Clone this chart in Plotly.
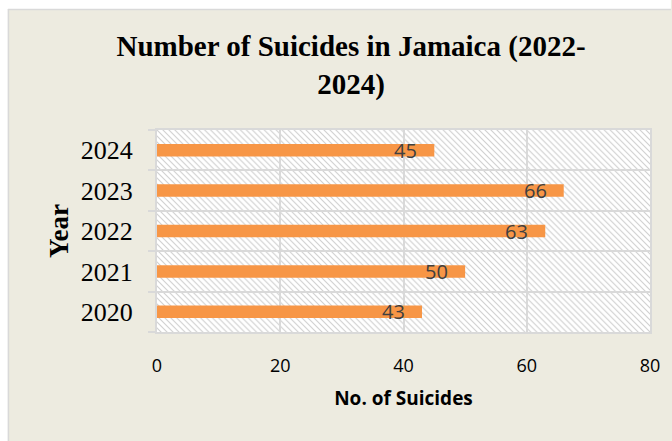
import base64
import plotly.graph_objects as go

years = ["2020", "2021", "2022", "2023", "2024"]
suicides = [43, 50, 63, 66, 45]
x_ticks = [0, 20, 40, 60, 80]

title_text = "<b>Number of Suicides in Jamaica (2022-<br>2024)</b>"
x_title = "No. of Suicides"
y_title = "Year"

BEIGE = "#EDEBE0"
GRID = "#D9D9D9"
BAR = "#F79646"

W, H = 672, 441
L, R, T, B = 157, 19, 130, 109
PW, PH = W - L - R, H - T - B

ypos = list(range(len(years)))

# hatched plot background as an svg image
svg = f'''<svg xmlns="http://www.w3.org/2000/svg" width="{PW}" height="{PH}">
<defs><pattern id="p" patternUnits="userSpaceOnUse" width="6" height="6">
<rect width="6" height="6" fill="#ffffff"/>
<path d="M0,0 L6,6 M-1,5 L1,7 M5,-1 L7,1" stroke="#D0D0D0" stroke-width="1.1"/>
</pattern></defs>
<rect width="{PW}" height="{PH}" fill="url(#p)"/></svg>'''
uri = "data:image/svg+xml;base64," + base64.b64encode(svg.encode()).decode()

fig = go.Figure()
fig.add_trace(go.Bar(
    x=suicides, y=ypos, orientation="h", width=0.31,
    marker=dict(color=BAR, line=dict(width=0)),
    hoverinfo="skip",
))

annotations = []
for yp, v in zip(ypos, suicides):
    annotations.append(dict(
        x=v, y=yp, xref="x", yref="y", text=str(v), showarrow=False,
        xanchor="right", yanchor="middle", xshift=-15, yshift=0,
        font=dict(family="Open Sans", size=20, color="#404040"),
    ))

fx = lambda px: (px - L) / PW
fy = lambda py: (H - B - py) / PH

shapes = [
    dict(type="rect", xref="paper", yref="paper", x0=fx(0), x1=fx(W + 2), y0=fy(9), y1=fy(-2),
         fillcolor="white", line=dict(width=0), layer="above"),
    dict(type="rect", xref="paper", yref="paper", x0=fx(-2), x1=fx(7), y0=fy(H + 2), y1=fy(-2),
         fillcolor="white", line=dict(width=0), layer="above"),
    dict(type="line", xref="paper", yref="paper", x0=fx(7), x1=fx(W + 2), y0=fy(9.5), y1=fy(9.5),
         line=dict(color=GRID, width=1.5), layer="above"),
    dict(type="line", xref="paper", yref="paper", x0=fx(7.5), x1=fx(7.5), y0=fy(9), y1=fy(H + 2),
         line=dict(color=GRID, width=1.5), layer="above"),
]

fig.update_layout(
    width=W, height=H,
    margin=dict(l=L, r=R, t=T, b=B),
    paper_bgcolor=BEIGE, plot_bgcolor="white",
    showlegend=False,
    title=dict(text=title_text, x=351 / W, xanchor="center", y=1 - 56 / H, yanchor="top",
               font=dict(family="Liberation Serif", size=29, color="#000000")),
    xaxis=dict(
        range=[0, 80], tickvals=x_ticks, ticks="", showgrid=True, gridcolor=GRID, gridwidth=1.5,
        showline=True, linecolor=GRID, linewidth=2, mirror=True, zeroline=False,
        tickfont=dict(family="Open Sans", size=18, color="#000000"),
        ticklabelstandoff=16,
        title=dict(text="<b>" + x_title + "</b>", standoff=16,
                   font=dict(family="Open Sans", size=19, color="#000000")),
    ),
    yaxis=dict(
        range=[-0.5, len(years) - 0.5], tickvals=ypos, ticktext=years, ticks="",
        showgrid=False, zeroline=False,
        showline=True, linecolor=GRID, linewidth=2, mirror=True,
        minor=dict(tick0=-0.5, dtick=1, ticks="outside", ticklen=7, tickcolor=GRID, tickwidth=1.5,
                   showgrid=True, gridcolor=GRID, gridwidth=1.5),
        tickfont=dict(family="Liberation Serif", size=26, color="#000000"),
        ticklabelstandoff=17,
        title=dict(text="<b>" + y_title + "</b>", standoff=4,
                   font=dict(family="Liberation Serif", size=27, color="#000000")),
    ),
    images=[dict(source=uri, xref="paper", yref="paper", x=0, y=1, sizex=1, sizey=1,
                 xanchor="left", yanchor="top", sizing="stretch", layer="below")],
    annotations=annotations,
    shapes=shapes,
)

fig.write_html("out.html")
